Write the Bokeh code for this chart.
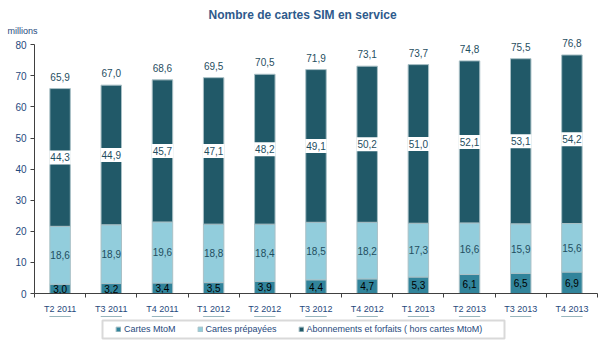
from bokeh.plotting import figure
from bokeh.layouts import column
from bokeh.models import (ColumnDataSource, LabelSet, Legend, LegendItem,
                          FixedTicker, Range1d, Title, BoxAnnotation)
from bokeh.core.properties import value
from bokeh.embed import file_html
from bokeh.resources import INLINE

categories = ["T2 2011", "T3 2011", "T4 2011", "T1 2012", "T2 2012", "T3 2012",
              "T4 2012", "T1 2013", "T2 2013", "T3 2013", "T4 2013"]
mtom = [3.0, 3.2, 3.4, 3.5, 3.9, 4.4, 4.7, 5.3, 6.1, 6.5, 6.9]
prepayees = [18.6, 18.9, 19.6, 18.8, 18.4, 18.5, 18.2, 17.3, 16.6, 15.9, 15.6]
abonnements = [44.3, 44.9, 45.7, 47.1, 48.2, 49.1, 50.2, 51.0, 52.1, 53.1, 54.2]
totaux = [65.9, 67.0, 68.6, 69.5, 70.5, 71.9, 73.1, 73.7, 74.8, 75.5, 76.8]
y_ticks = [0, 10, 20, 30, 40, 50, 60, 70, 80]
series_names = ["Cartes MtoM", "Cartes prépayées",
                "Abonnements et forfaits ( hors cartes MtoM)"]

C_MTOM = "#31849b"
C_PRE = "#92cddc"
C_ABO = "#215968"
C_TXT = "#1f4e5f"
C_AX = "#1f497d"
FONT = "Liberation Sans"
EDGE = "#a9c0c6"

def fmt(v):
    return f"{v:.1f}".replace(".", ",")

x = list(range(len(categories)))
b1 = [0.0] * len(x)
t1 = [m for m in mtom]
t2 = [a + b for a, b in zip(t1, prepayees)]
t3 = [a + b for a, b in zip(t2, abonnements)]

src = ColumnDataSource(dict(
    x=x, b1=b1, t1=t1, t2=t2, t3=t3, tot=totaux,
    m1=[(a + b) / 2 for a, b in zip(b1, t1)],
    m2=[(a + b) / 2 for a, b in zip(t1, t2)],
    m3=[(a + b) / 2 for a, b in zip(t2, t3)],
    band_lo=[(a + b) / 2 - 2.25 for a, b in zip(t2, t3)],
    band_hi=[(a + b) / 2 + 2.25 for a, b in zip(t2, t3)],
    l1=[fmt(v) for v in mtom],
    l2=[fmt(v) for v in prepayees],
    l3=[fmt(v) for v in abonnements],
    lt=[fmt(v) for v in totaux],
))

p = figure(width=605, height=316, output_backend="svg", toolbar_location=None,
           x_range=Range1d(-0.5, len(categories) - 0.5), y_range=Range1d(0, 82),
           min_border_left=34, min_border_right=8, min_border_top=38,
           min_border_bottom=23, background_fill_color="white",
           border_fill_color="white", outline_line_color=None)
p.grid.visible = False

p.title.text = "Nombre de cartes SIM en service"
p.title.align = "left"
p.title.text_font = FONT
p.title.text_font_size = "12px"
p.title.text_font_style = "bold"
p.title.text_color = "#2e5a8c"
p.title.offset = 174
p.title.standoff = 0

p.add_layout(Title(text="millions", align="left", offset=-27, text_font=FONT,
                   text_font_size="9px", text_font_style="normal",
                   text_color=C_AX, standoff=5), "above")

W = 0.4
p.vbar(x="x", bottom="b1", top="t1", width=W, source=src,
       fill_color=C_MTOM, line_color=EDGE, line_width=1)
p.vbar(x="x", bottom="t1", top="t2", width=W, source=src,
       fill_color=C_PRE, line_color=EDGE, line_width=1)
p.vbar(x="x", bottom="t2", top="t3", width=W, source=src,
       fill_color=C_ABO, line_color=EDGE, line_width=1)
# white band behind the abonnements label
p.vbar(x="x", bottom="band_lo", top="band_hi", width=W + 0.02, source=src,
       fill_color="white", line_color=None)

common = dict(text_font=value(FONT), text_font_size=value("10px"),
              text_align="center", text_baseline="middle")
p.add_layout(LabelSet(x="x", y="m1", text="l1", source=src, text_color="black", **common))
p.add_layout(LabelSet(x="x", y="m2", text="l2", source=src, text_color=C_TXT, **common))
p.add_layout(LabelSet(x="x", y="m3", text="l3", source=src, text_color=C_TXT, **common))
p.add_layout(LabelSet(x="x", y="t3", text="lt", source=src, text_color=C_TXT,
                      y_offset=12, **common))

# axes
xa = p.xaxis[0]
xa.ticker = FixedTicker(ticks=x, minor_ticks=[i - 0.5 for i in range(len(x) + 1)])
xa.major_label_overrides = {i: c for i, c in enumerate(categories)}
xa.major_tick_line_color = None
xa.major_tick_out = 0
xa.major_tick_in = 0
xa.minor_tick_out = 4
xa.minor_tick_in = 0
xa.minor_tick_line_color = "#404040"
xa.axis_line_color = "#404040"
xa.major_label_text_font = FONT
xa.major_label_text_font_size = "9px"
xa.major_label_text_color = C_AX
xa.major_label_standoff = 6

ya = p.yaxis[0]
ya.ticker = FixedTicker(ticks=y_ticks)
ya.bounds = (y_ticks[0], y_ticks[-1])
ya.minor_tick_line_color = None
ya.major_tick_out = 4
ya.major_tick_in = 0
ya.major_tick_line_color = "#404040"
ya.axis_line_color = "#404040"
ya.major_label_text_font = FONT
ya.major_label_text_font_size = "10px"
ya.major_label_text_color = C_AX
ya.major_label_standoff = 4

# legend strip
q = figure(width=605, height=30, output_backend="svg", toolbar_location=None,
           x_axis_location=None, y_axis_location=None,
           x_range=Range1d(-0.5, len(categories) - 0.5), y_range=Range1d(-2, -1),
           min_border=0, outline_line_color=None,
           background_fill_color="white", border_fill_color="white")
q.grid.visible = False
items = []
for name, vals, col in zip(series_names, [mtom, prepayees, abonnements],
                           [C_MTOM, C_PRE, C_ABO]):
    r = q.vbar(x=x, top=vals, width=W, fill_color=col, line_color=EDGE, line_width=1)
    items.append(LegendItem(label=name, renderers=[r]))

q.add_layout(BoxAnnotation(left=102, right=504, top=4, bottom=22,
                           left_units="canvas", right_units="canvas",
                           top_units="canvas", bottom_units="canvas",
                           fill_color="white", fill_alpha=1,
                           line_color="#808080", line_width=2))

legend = Legend(items=items, orientation="horizontal", location=(81, 12),
                glyph_width=6, glyph_height=6,
                label_text_font=FONT, label_text_font_size="9px",
                label_text_color=C_AX, label_standoff=3, spacing=21,
                padding=0, margin=0, border_line_color=None,
                background_fill_alpha=0, label_height=9)
q.add_layout(legend, "center")

open("out.html", "w").write(file_html(column(p, q, spacing=0), INLINE))
